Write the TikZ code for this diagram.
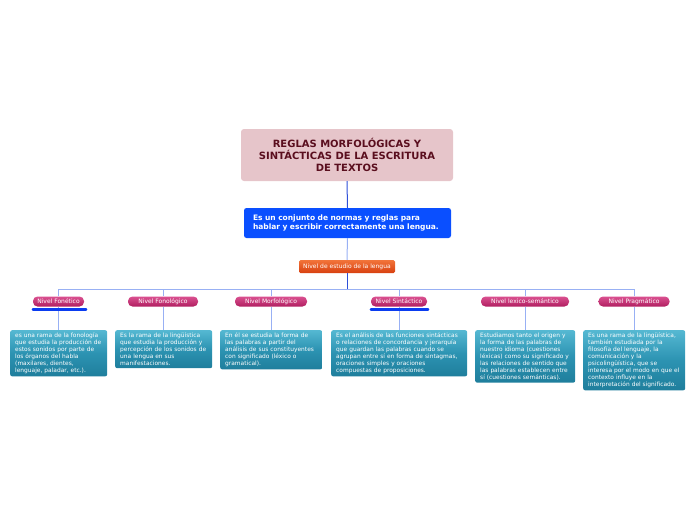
\documentclass[tikz,border=0pt]{standalone}
\usepackage{fontspec}
\setmainfont{DejaVu Sans}
\begin{document}
\begin{tikzpicture}[x=1pt,y=-1pt,
  titlebox/.style={draw=none,fill=titlepink,rounded corners=3pt,text=titletext,font=\fontsize{10}{12}\selectfont\bfseries,align=center,inner sep=0pt},
  mainbox/.style={draw=none,fill=mainblue,rounded corners=2.5pt,text=white,font=\fontsize{7.5}{8.7}\selectfont\bfseries,align=left,inner sep=0pt},
  orangebox/.style={draw=none,top color=orangetop,bottom color=orangebot,rounded corners=1.5pt,text=white,font=\fontsize{6}{6}\selectfont,inner sep=0pt},
  levelbox/.style={draw=none,top color=magtop,bottom color=magbot,rounded corners=4.5pt,text=white,font=\fontsize{6}{6}\selectfont,inner sep=0pt,minimum height=10pt},
  descbox/.style={draw=none,top color=tealtop,bottom color=tealbot,middle color=tealmid,rounded corners=2pt,text=white,font=\fontsize{5.9}{7}\selectfont,align=left,inner xsep=5pt,inner ysep=2.6pt,anchor=north west},
  darkline/.style={draw=darkconn,line width=1pt},
  lightline/.style={draw=lightconn,line width=1pt},
  underbar/.style={draw=underblue,line width=2.2pt,line cap=round}
]
\definecolor{titlepink}{HTML}{E6C5CA}
\definecolor{titletext}{HTML}{5A0E1E}
\definecolor{mainblue}{HTML}{0A4FFF}
\definecolor{orangetop}{HTML}{F2743A}
\definecolor{orangebot}{HTML}{D8400F}
\definecolor{magtop}{HTML}{DA5090}
\definecolor{magbot}{HTML}{B01E60}
\definecolor{tealtop}{HTML}{55B8D2}
\definecolor{tealmid}{HTML}{2C93B2}
\definecolor{tealbot}{HTML}{1F7E9C}
\definecolor{darkconn}{HTML}{2E4FD8}
\definecolor{lightconn}{HTML}{98B0F4}
\definecolor{underblue}{HTML}{0A3CF0}
\useasboundingbox (0,0) rectangle (696,520);

% nodes
\node[titlebox,minimum width=212pt,minimum height=52pt] (title) at (347,155)
  {REGLAS MORFOLÓGICAS Y\\SINTÁCTICAS DE LA ESCRITURA\\DE TEXTOS};
\node[mainbox,minimum width=207pt,minimum height=30pt,text width=189pt] (main) at (347.5,223)
  {Es un conjunto de normas y reglas para\\hablar y escribir correctamente una lengua.};
\node[orangebox,minimum width=96pt,minimum height=13pt] (nivel) at (347,266.5) {Nivel de estudio de la lengua};

\coordinate (bar) at (347,289);

\node[levelbox,minimum width=51pt] (fon) at (58.5,301.5) {Nivel Fonético};
\node[levelbox,minimum width=70pt] (fonol) at (163,301.5) {Nivel Fonológico};
\node[levelbox,minimum width=72pt] (morf) at (271,301.5) {Nivel Morfológico};
\node[levelbox,minimum width=56pt] (sint) at (399,301.5) {Nivel Sintáctico};
\node[levelbox,minimum width=88pt] (lex) at (525,301.5) {Nivel lexico-semántico};
\node[levelbox,minimum width=71pt] (prag) at (634,301.5) {Nivel Pragmático};

\node[descbox,text width=87pt] (d1) at (10,330)
  {es una rama de la fonología\\que estudia la producción de\\estos sonidos por parte de\\los órganos del habla\\(maxilares, dientes,\\lenguaje, paladar, etc.).};
\node[descbox,text width=87pt] (d2) at (115,330)
  {Es la rama de la lingüística\\que estudia la producción y\\percepción de los sonidos de\\una lengua en sus\\manifestaciones.};
\node[descbox,text width=92pt] (d3) at (220,330)
  {En él se estudia la forma de\\las palabras a partir del\\análisis de sus constituyentes\\con significado (léxico o\\gramatical).};
\node[descbox,text width=126pt] (d4) at (331,330)
  {Es el análisis de las funciones sintácticas\\o relaciones de concordancia y jerarquía\\que guardan las palabras cuando se\\agrupan entre sí en forma de sintagmas,\\oraciones simples y oraciones\\compuestas de proposiciones.};
\node[descbox,text width=90pt] (d5) at (475,330)
  {Estudiamos tanto el origen y\\la forma de las palabras de\\nuestro idioma (cuestiones\\léxicas) como su significado y\\las relaciones de sentido que\\las palabras establecen entre\\sí (cuestiones semánticas).};
\node[descbox,text width=92pt] (d6) at (583,330)
  {Es una rama de la lingüística,\\también estudiada por la\\filosofía del lenguaje, la\\comunicación y la\\psicolingüística, que se\\interesa por el modo en que el\\contexto influye en la\\interpretación del significado.};

% connectors
\draw[darkline] (title.south) -- (main.north);
\draw[lightline] (main.south) -- (nivel.north);
\draw[darkline] (nivel.south) -- (bar);
\draw[lightline] (fon.north) -- (fon.north |- bar) -- (prag.north |- bar) -- (prag.north);
\draw[lightline] (fonol.north |- bar) -- (fonol.north);
\draw[lightline] (morf.north |- bar) -- (morf.north);
\draw[lightline] (sint.north |- bar) -- (sint.north);
\draw[lightline] (lex.north |- bar) -- (lex.north);
\draw[lightline] (fon.south) -- (fon.south |- d1.north);
\draw[lightline] (fonol.south) -- (fonol.south |- d2.north);
\draw[lightline] (morf.south) -- (morf.south |- d3.north);
\draw[lightline] (sint.south) -- (sint.south |- d4.north);
\draw[lightline] (lex.south) -- (lex.south |- d5.north);
\draw[lightline] (prag.south) -- (prag.south |- d6.north);
\draw[underbar] ([xshift=0pt,yshift=-2.8pt]fon.south west) -- ([xshift=2pt,yshift=-2.8pt]fon.south east);
\draw[underbar] ([xshift=0pt,yshift=-2.8pt]sint.south west) -- ([xshift=1pt,yshift=-2.8pt]sint.south east);
\end{tikzpicture}
\end{document}
